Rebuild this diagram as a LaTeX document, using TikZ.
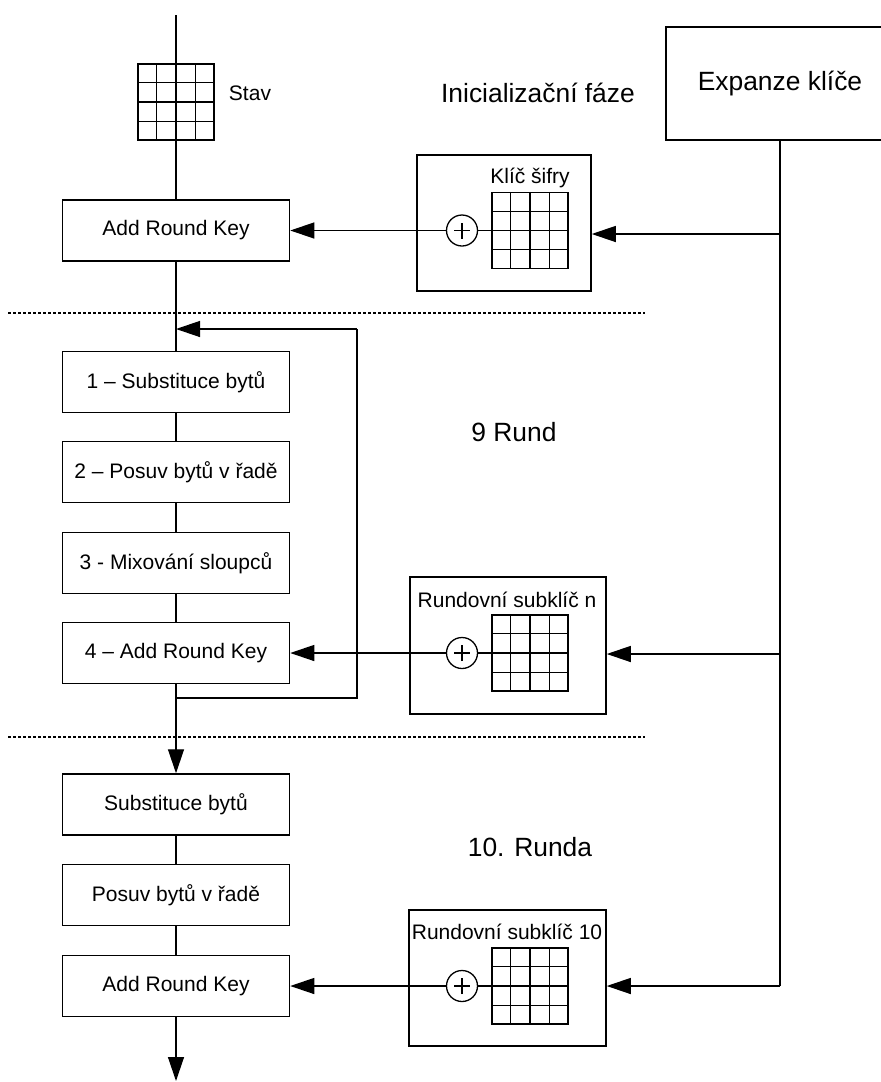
\documentclass[tikz,border=0pt]{standalone}
\usepackage{fontspec}
\setmainfont{Liberation Sans}
\usetikzlibrary{arrows.meta,calc}

\begin{document}
\begin{tikzpicture}[x=1pt,y=-1pt,
  every node/.style={font=\fontsize{21}{25}\selectfont},
  flowbox/.style={draw, line width=1.5pt, minimum width=227pt, minimum height=61pt, inner sep=0pt},
  keybox/.style={draw, line width=1.5pt, inner sep=0pt},
  cellgrid/.style={draw, line width=1.3pt, minimum width=76pt, minimum height=76pt, inner sep=0pt},
  xorsym/.style={draw, circle, line width=1.3pt, minimum size=31pt, inner sep=0pt},
  bigtext/.style={font=\fontsize{26.4}{30}\selectfont},
  conn/.style={line width=1.3pt},
  arr/.style={conn, -{Triangle[length=24pt,width=16pt]}},
  sep/.style={line width=1.2pt, dash pattern=on 3pt off 2pt},
]
\useasboundingbox (0,0) rectangle (881,1082);
\clip (0,0) rectangle (881,1082);

% key expansion block
\node[keybox, minimum width=228pt, minimum height=113pt] (exp) at (780,83.5) {\fontsize{26.4}{30}\selectfont Expanze klíče};

% state matrix and phase titles
\node[cellgrid] (gs) at (176,102) {};
\node (stav) at (250,93) {Stav};
\node[bigtext] (init) at (538,93) {Inicializační fáze};
\node[bigtext] (nine) at (514,432) {9 Rund};
\node[bigtext] (tenth) at (530,847) {10. Runda};

% main data path
\node[flowbox] (ark0) at (176,230.5) {Add Round Key};
\node[flowbox] (r1) at (176,382) {1 – Substituce bytů};
\node[flowbox] (r2) at (176,472) {2 – Posuv bytů v řadě};
\node[flowbox] (r3) at (176,563) {3 - Mixování sloupců};
\node[flowbox] (r4) at (176,653) {4 – Add Round Key};
\node[flowbox] (s10) at (176,804.5) {Substituce bytů};
\node[flowbox] (p10) at (176,895) {Posuv bytů v řadě};
\node[flowbox] (a10) at (176,986) {Add Round Key};

% round key blocks
\node[keybox, minimum width=174pt, minimum height=136pt] (kb0) at (504,223) {};
\node[keybox, minimum width=196pt, minimum height=137pt] (kbn) at (508,645.5) {};
\node[keybox, minimum width=197pt, minimum height=136pt] (kb10) at (507.5,978) {};

\node (l0) at (530,178) {Klíč šifry};
\node (ln) at (507,600) {Rundovní subklíč n};
\node (l10) at (507,932) {Rundovní subklíč 10};

\node[xorsym] (x0) at (462,230.5) {};
\node[xorsym] (xn) at (462,653) {};
\node[xorsym] (x10) at (462,986) {};

\node[cellgrid] (g0) at (530,230.5) {};
\node[cellgrid] (gn) at (530,653) {};
\node[cellgrid] (g10) at (530,986) {};

% 4x4 cell lines
\foreach \g in {gs,g0,gn,g10} {
  \foreach \k in {1,2,3} {
    \draw[line width=1.3pt] ($(\g.north west)!\k/4!(\g.north east)$) -- ($(\g.south west)!\k/4!(\g.south east)$);
    \draw[line width=1.3pt] ($(\g.north west)!\k/4!(\g.south west)$) -- ($(\g.north east)!\k/4!(\g.south east)$);
  }
}

% plus signs of the XOR symbols
\foreach \c in {x0,xn,x10} {
  \draw[conn] ([xshift=-8pt]\c.center) -- ([xshift=8pt]\c.center);
  \draw[conn] ([yshift=-8pt]\c.center) -- ([yshift=8pt]\c.center);
}

% helper points
\coordinate (top) at (176,15);
\coordinate (bottom) at (176,1081);
\coordinate (j0) at (780,234);
\coordinate (jn) at (780,654);
\coordinate (j10) at (780,986);
\coordinate (fbR) at (357,698);
\coordinate (fbT) at (357,329);

% data path connectors
\draw[conn] (top) -- (ark0.north);
\draw[conn] (ark0.south) -- (r1.north);
\draw[conn] (r1.south) -- (r2.north);
\draw[conn] (r2.south) -- (r3.north);
\draw[conn] (r3.south) -- (r4.north);
\draw[arr] (r4.south) -- (s10.north);
\draw[conn] (fbR -| r4.south) -- (fbR) -- (fbT);
\draw[arr] (fbT) -- (fbT -| r1.north);
\draw[conn] (s10.south) -- (p10.north);
\draw[conn] (p10.south) -- (a10.north);
\draw[arr] (a10.south) -- (bottom);

% round keys into the state
\draw[arr] (x0.west) -- (x0.west -| ark0.east);
\draw[arr] (xn.west) -- (xn.west -| r4.east);
\draw[arr] (x10.west) -- (x10.west -| a10.east);
\draw[conn] (x0.east) -- (x0.east -| g0.west);
\draw[conn] (xn.east) -- (xn.east -| gn.west);
\draw[conn] (x10.east) -- (x10.east -| g10.west);

% key schedule distribution
\draw[conn] (exp.south) -- (j10);
\draw[arr] (j0) -- (j0 -| kb0.east);
\draw[arr] (jn) -- (jn -| kbn.east);
\draw[arr] (j10) -- (j10 -| kb10.east);

% phase separators
\draw[sep] (8,313) -- (645,313);
\draw[sep] (8,737) -- (645,737);
\end{tikzpicture}
\end{document}
